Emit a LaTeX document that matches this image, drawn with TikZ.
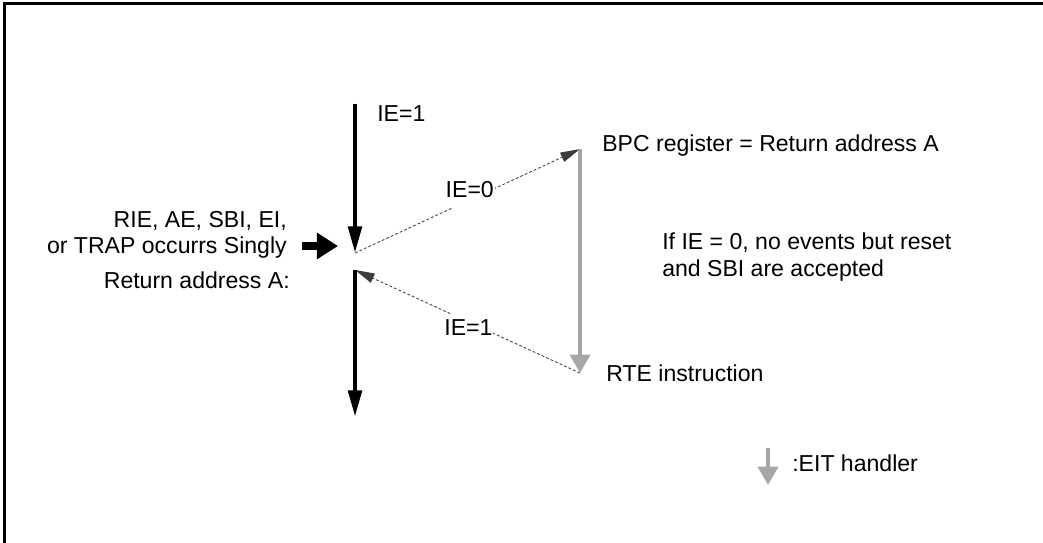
\documentclass[tikz,border=0pt]{standalone}
\usepackage{fontspec}
\setmainfont{Liberation Sans}
\usetikzlibrary{arrows.meta}
\definecolor{eitGray}{RGB}{166,166,166}
\definecolor{eitDash}{RGB}{60,60,60}

\begin{document}
\begin{tikzpicture}[x=0.025cm,y=-0.025cm,
  flow/.style={black,line width=3.2pt,-{Triangle[length=19pt,width=9.5pt]}},
  handler/.style={eitGray,line width=3.2pt,-{Triangle[length=13pt,width=14pt]}},
  hop/.style={eitDash,line width=0.6pt,dash pattern=on 2pt off 1.5pt,-{Triangle[length=14pt,width=7pt]}},
  event/.style={black,line width=5.7pt,-{Triangle[length=15pt,width=18pt]}},
  txt/.style={inner sep=0pt,font=\fontsize{16.4}{18.5}\selectfont},
  tag/.style={txt,text=black,fill=white,inner xsep=0.5pt,inner ysep=4pt,text depth=3pt,anchor=base}]
\path[use as bounding box] (0,0) rectangle (1043,543);
\clip (0,0) rectangle (1043,543);
\draw[line width=1.8pt] (4.5,3.5) rectangle (1080,580);
\coordinate (entry) at (355,104);
\coordinate (hub) at (355,253);
\coordinate (resume) at (355,270);
\coordinate (exit) at (355,417);
\coordinate (bpc) at (580,149);
\coordinate (rte) at (580,373);
\coordinate (evFrom) at (302,246);
\coordinate (evTo) at (338,246);
\coordinate (legTop) at (768,448);
\coordinate (legTip) at (768,485);
\node[txt,anchor=base west] (ieTop) at (377,122) {IE=1};
\node[txt,anchor=base west] (bpcText) at (602,152) {BPC register = Return address A};
\node[txt,anchor=north west,align=left] (note) at (662,233) {If IE = 0, no events but reset\\and SBI are accepted};
\node[txt,anchor=north east,align=right] (cause) at (287,211) {RIE, AE, SBI, EI,\\or TRAP occurrs Singly};
\node[txt,anchor=base east] (retText) at (290,288) {Return address A:};
\node[txt,anchor=base west] (rteText) at (606,381) {RTE instruction};
\node[txt,anchor=base west] (eitText) at (792,471) {:EIT handler};
\draw[flow] (entry) -- (hub);
\draw[hop] (hub) -- node[tag,pos=0.51,yshift=1.5pt] (ieZero) {IE=0} (bpc);
\draw[handler] (bpc) -- (rte);
\draw[hop] (rte) -- node[tag,pos=0.496,yshift=-9.4pt] (ieOne) {IE=1} (resume);
\draw[flow] (resume) -- (exit);
\draw[event] (evFrom) -- (evTo);
\draw[handler] (legTop) -- (legTip);
\end{tikzpicture}
\end{document}
